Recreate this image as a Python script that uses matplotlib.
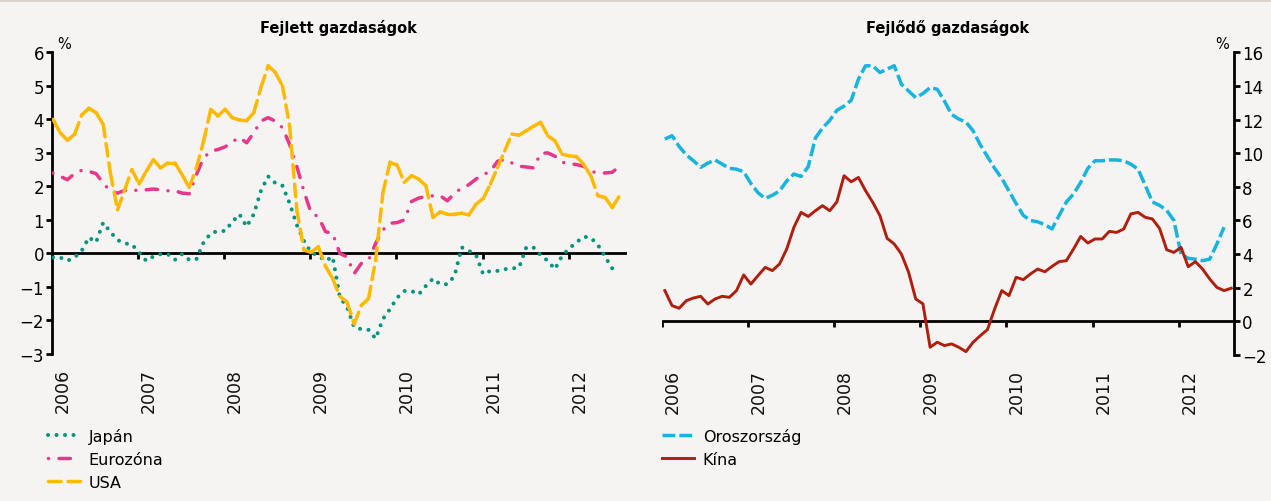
import numpy as np
import matplotlib
matplotlib.use("Agg")
import matplotlib.pyplot as plt
from matplotlib.collections import LineCollection
from matplotlib.lines import Line2D
from matplotlib.patches import Rectangle

nan = np.nan
# ---------------- data (monthly, Jan 2006 - Aug 2012) ----------------
years = ["2006", "2007", "2008", "2009", "2010", "2011", "2012"]
months = np.arange(80)

usa = [4.0, 3.6, 3.38, 3.55, 4.13, 4.33, 4.2, 3.85, 2.4, 1.3,
       1.9, 2.5, 2.07, 2.45, 2.8, 2.55, 2.7, 2.7, 2.35, 1.97,
       2.55, 3.35, 4.3, 4.1, 4.3, 4.05, 3.98, 3.96, 4.2, 4.95,
       5.6, 5.4, 5.0, 3.8, 1.3, 0.1, 0.03, 0.2, -0.38, -0.75,
       -1.28, -1.45, -2.1, -1.55, -1.35, -0.2, 1.8, 2.72, 2.63, 2.12,
       2.32, 2.22, 2.02, 1.07, 1.24, 1.17, 1.17, 1.2, 1.15, 1.47,
       1.64, 2.07, 2.56, 3.06, 3.56, 3.53, 3.66, 3.79, 3.91, 3.51,
       3.36, 2.96, 2.91, 2.89, 2.66, 2.32, 1.72, 1.67, 1.37, 1.72]

eurozone = [2.4, 2.3, 2.2, 2.38, 2.48, 2.45, 2.38, 2.1, 1.85, 1.8,
            1.88, 1.9, 1.87, 1.9, 1.92, 1.9, 1.87, 1.87, 1.8, 1.78,
            2.35, 2.85, 3.05, 3.1, 3.18, 3.33, 3.46, 3.3, 3.6, 3.95,
            4.05, 3.95, 3.75, 3.25, 2.6, 1.85, 1.2, 1.1, 0.65, 0.6,
            0.0, -0.1, -0.6, -0.3, -0.2, 0.3, 0.7, 0.9, 0.92, 1.0,
            1.55, 1.65, 1.7, 1.72, 1.72, 1.57, 1.8, 1.95, 2.05, 2.22,
            2.35, 2.45, 2.75, 2.8, 2.7, 2.6, 2.58, 2.55, 2.98, 3.0,
            2.9, 2.72, 2.68, 2.65, 2.6, 2.45, 2.4, 2.4, 2.42, 2.6]

japan = [-0.12, -0.12, -0.22, -0.12, 0.08, 0.48, 0.33, 0.92, 0.64, 0.4,
         0.3, 0.27, 0.03, -0.22, -0.09, -0.02, -0.02, -0.19, -0.02, -0.19,
         -0.17, 0.33, 0.6, 0.67, 0.67, 0.94, 1.17, 0.8, 1.17, 1.87,
         2.3, 2.1, 2.02, 1.5, 0.85, 0.37, 0.03, -0.07, -0.22, -0.1,
         -1.3, -1.6, -2.2, -2.26, -2.28, -2.54, -1.96, -1.66, -1.32, -1.12,
         -1.12, -1.22, -0.97, -0.75, -0.92, -0.92, -0.67, 0.18, 0.08, -0.05,
         -0.62, -0.52, -0.52, -0.47, -0.45, -0.42, 0.18, 0.18, -0.05, -0.22,
         -0.47, -0.07, 0.15, 0.33, 0.5, 0.47, 0.25, -0.1, -0.45, nan]

russia = [10.84, 11.04, 10.4, 9.9, 9.55, 9.16, 9.41, 9.6, 9.35, 9.1,
          9.05, 8.9, 8.2, 7.65, 7.31, 7.5, 7.75, 8.35, 8.76, 8.62,
          9.2, 10.9, 11.5, 11.95, 12.55, 12.8, 13.15, 14.4, 15.2, 15.2,
          14.8, 15.0, 15.2, 14.1, 13.7, 13.3, 13.55, 13.9, 13.8, 13.1,
          12.3, 12.03, 11.85, 11.33, 10.5, 9.8, 9.1, 8.5, 7.75, 7.0,
          6.3, 6.0, 5.92, 5.75, 5.5, 6.3, 7.1, 7.57, 8.26, 9.1,
          9.55, 9.55, 9.6, 9.6, 9.55, 9.35, 9.05, 8.1, 7.1, 6.9,
          6.6, 6.0, 4.0, 3.75, 3.7, 3.61, 3.7, 4.6, 5.6, nan]

china = [1.83, 0.94, 0.78, 1.23, 1.39, 1.49, 1.03, 1.33, 1.49, 1.43,
         1.83, 2.76, 2.22, 2.72, 3.21, 3.02, 3.41, 4.3, 5.59, 6.48,
         6.24, 6.58, 6.88, 6.58, 7.11, 8.66, 8.3, 8.56, 7.77, 7.08,
         6.29, 4.94, 4.6, 4.0, 2.92, 1.33, 1.04, -1.54, -1.24, -1.44,
         -1.34, -1.54, -1.8, -1.24, -0.85, -0.49, 0.74, 1.83, 1.53, 2.62,
         2.48, 2.82, 3.11, 2.95, 3.27, 3.55, 3.61, 4.3, 5.05, 4.66,
         4.9, 4.9, 5.35, 5.29, 5.49, 6.39, 6.48, 6.19, 6.09, 5.53,
         4.26, 4.1, 4.4, 3.25, 3.55, 3.11, 2.52, 2.02, 1.83, 1.97]

left_yticks = [-3, -2, -1, 0, 1, 2, 3, 4, 5, 6]
right_yticks = [-2, 0, 2, 4, 6, 8, 10, 12, 14, 16]

# ---------------- style ----------------
BG = "#F5F4F2"
C_USA = "#FFB900"
C_EUR = "#E8378B"
C_JAP = "#00937E"
C_RUS = "#18B4E0"
C_CHN = "#B01E0E"

W, H = 1271, 502
fig = plt.figure(figsize=(W / 100, H / 100), dpi=100, facecolor=BG)
fig.add_artist(Rectangle((0, 1 - 3 / H), 1, 3 / H, transform=fig.transFigure,
                         color="#D8D3CE", lw=0))

def px_axes(x0, x1, ytop, ybot):
    return [x0 / W, 1 - ybot / H, (x1 - x0) / W, (ybot - ytop) / H]

axL = fig.add_axes(px_axes(52.3, 627, 53.3, 355))
axR = fig.add_axes(px_axes(662.3, 1234, 53.3, 356))

PX_PER_MONTH = 7.17
for ax, (x0, x1) in ((axL, (52.3, 627)), (axR, (662.3, 1234))):
    ax.set_facecolor(BG)
    ax.set_xlim(0, (x1 - x0) / PX_PER_MONTH)
    for s in ax.spines.values():
        s.set_visible(False)

axL.set_ylim(-3, 6)
axR.set_ylim(-2, 16)

xl = months + 0.1
xr = months + 0.35

# Left panel lines
lw = 2.5
lj, = axL.plot(xl, japan, color=C_JAP, lw=2.9, ls=(0, (0.01, 2.1)),
               dash_capstyle="round", zorder=3)
le, = axL.plot(xl, eurozone, color=C_EUR, lw=lw, ls=(0, (0.01, 3.0, 3.3, 3.0)),
               dash_capstyle="round", zorder=4)
pts = np.column_stack([xl, usa])
segs = np.stack([pts[:-1], pts[1:]], axis=1)
lc = LineCollection(segs, colors=C_USA, linewidths=lw,
                    linestyles=[(0, (3.6, 2.0))], capstyle="round", zorder=5)
axL.add_collection(lc)
lu = Line2D([], [], color=C_USA, lw=lw, ls=(0, (3.6, 2.0)), dash_capstyle="round")

# Right panel lines
lr, = axR.plot(xr, russia, color=C_RUS, lw=lw, ls=(0, (3.7, 1.15)), zorder=3)
lch, = axR.plot(xr, china, color=C_CHN, lw=2.1, zorder=4)

# zero lines and year ticks on them
year_pos = [12 * i for i in range(len(years))]
for ax, tl in ((axL, 0.16), (axR, 0.32)):
    ax.axhline(0, color="black", lw=2.0, zorder=2)
    ax.vlines(year_pos, -tl, 0, color="black", lw=2.0, zorder=2)
    ax.set_xticks([p + 1.5 for p in year_pos])
    ax.set_xticklabels(years, rotation=90, fontsize=12.5)
    ax.tick_params(axis="x", length=0, pad=10, labelcolor="#111111")

# y axes
axL.spines["left"].set_visible(True)
axL.spines["left"].set_linewidth(2.0)
axL.set_yticks(left_yticks)
axL.tick_params(axis="y", direction="out", length=4.5, width=2.0, pad=1.5,
                labelsize=12)

axR.spines["right"].set_visible(True)
axR.spines["right"].set_linewidth(2.0)
axR.yaxis.tick_right()
axR.set_yticks(right_yticks)
axR.tick_params(axis="y", direction="out", length=4.5, width=2.0, pad=1.5,
                labelsize=12)

axL.text(0.008, 1.005, "%", transform=axL.transAxes, ha="left", va="bottom",
         fontsize=10.5)
axR.text(0.992, 1.005, "%", transform=axR.transAxes, ha="right", va="bottom",
         fontsize=10.5)

# titles
fig.text(338 / W, 1 - 28 / H, "Fejlett gazdaságok", ha="center", va="center",
         fontsize=10.5, fontweight="bold")
fig.text(948 / W, 1 - 28 / H, "Fejlődő gazdaságok", ha="center", va="center",
         fontsize=10.5, fontweight="bold")

# legends
legkw = dict(frameon=False, fontsize=11.5, handlelength=2.0, handletextpad=0.55,
             labelspacing=0.5, borderpad=0, borderaxespad=0, loc="upper left")
fig.legend([lj, le, lu], ["Japán", "Eurozóna", "USA"],
           bbox_to_anchor=(48 / W, 1 - 429 / H), **legkw)
fig.legend([lr, lch], ["Oroszország", "Kína"],
           bbox_to_anchor=(662 / W, 1 - 429 / H), **legkw)

fig.savefig("out.png", dpi=100, facecolor=BG)
